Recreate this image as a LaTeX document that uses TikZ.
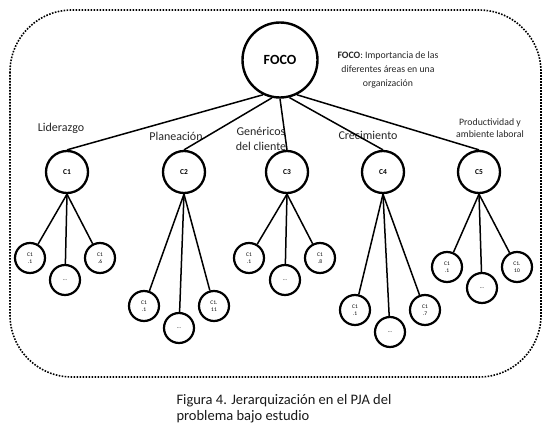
\documentclass[tikz,border=0pt]{standalone}
\usepackage{fontspec}
\setmainfont{Carlito}
\begin{document}
\begin{tikzpicture}[x=1pt,y=-1pt,
  lvone/.style={circle,draw,line width=2.3pt,minimum size=42pt,inner sep=0pt,font=\bfseries\fontsize{7.5}{8}\selectfont},
  lvtwo/.style={circle,draw,line width=2.2pt,minimum size=30pt,inner sep=0pt,font=\fontsize{5.5}{7}\selectfont,align=center},
  edge/.style={line width=1.5pt},
  lbl/.style={font=\fontsize{12}{15}\selectfont,align=center,text=black!85}]
\useasboundingbox (0,0) rectangle (552,436);
\draw[line width=1.6pt, dash pattern=on 1.6pt off 1.4pt, rounded corners=62pt] (10,10) rectangle (541,377);

\node[circle,draw,line width=2.4pt,minimum size=75pt,inner sep=0pt,font=\bfseries\fontsize{14}{16}\selectfont] (foco) at (280,60) {FOCO};
\node[lbl,font=\fontsize{9.8}{14}\selectfont] (desc) at (388,70) {\textbf{FOCO}: Importancia de las\\diferentes áreas en una\\organización};

\node[lvone] (c1) at (67,172) {C1};
\node[lvone] (c2) at (184,172) {C2};
\node[lvone] (c3) at (287,172) {C3};
\node[lvone] (c4) at (383,172) {C4};
\node[lvone] (c5) at (479,172) {C5};

\node[lbl] (l1) at (61,128) {Liderazgo};
\node[lbl] (l2) at (176,136) {Planeación};
\node[lbl] (l3) at (261,139) {Genéricos\\del cliente};
\node[lbl] (l4) at (368,135) {Crecimiento};
\node[lbl,font=\fontsize{9.8}{12.5}\selectfont] (l5) at (490,128) {Productividad y\\ambiente laboral};

\draw[edge] (foco.-116) -- (c1.north);
\draw[edge] (foco.-102) -- (c2.north);
\draw[edge] (foco.-90) -- (c3.north);
\draw[edge] (foco.-76) -- (c4.north);
\draw[edge] (foco.-64) -- (c5.north);

% C1 group
\node[lvtwo] (c1a) at (30,258) {C1\\.1};
\node[lvtwo] (c1b) at (65,280) {...};
\node[lvtwo] (c1c) at (100,258) {C1\\.6};
% C2 group
\node[lvtwo] (c2a) at (144,306) {C1\\.1};
\node[lvtwo] (c2b) at (179,328) {...};
\node[lvtwo] (c2c) at (214,306) {C1.\\11};
% C3 group
\node[lvtwo] (c3a) at (249,258) {C1\\.1};
\node[lvtwo] (c3b) at (285,280) {...};
\node[lvtwo] (c3c) at (320,258) {C1\\.8};
% C4 group
\node[lvtwo] (c4a) at (355,310) {C1\\.1};
\node[lvtwo] (c4b) at (390,332) {...};
\node[lvtwo] (c4c) at (425,310) {C1\\.7};
% C5 group
\node[lvtwo] (c5a) at (447,267) {C1\\.1};
\node[lvtwo] (c5b) at (482,288) {...};
\node[lvtwo] (c5c) at (517,267) {C1.\\10};

\foreach \p in {c1,c2,c3,c4,c5}{
  \draw[edge] (\p.south) -- (\p a);
  \draw[edge] (\p.south) -- (\p b);
  \draw[edge] (\p.south) -- (\p c);
}

\node[anchor=north west,align=left,font=\fontsize{14.5}{16}\selectfont,text=black!90] (cap) at (173,391) {Figura 4. Jerarquización en el PJA del\\problema bajo estudio};
\end{tikzpicture}
\end{document}
